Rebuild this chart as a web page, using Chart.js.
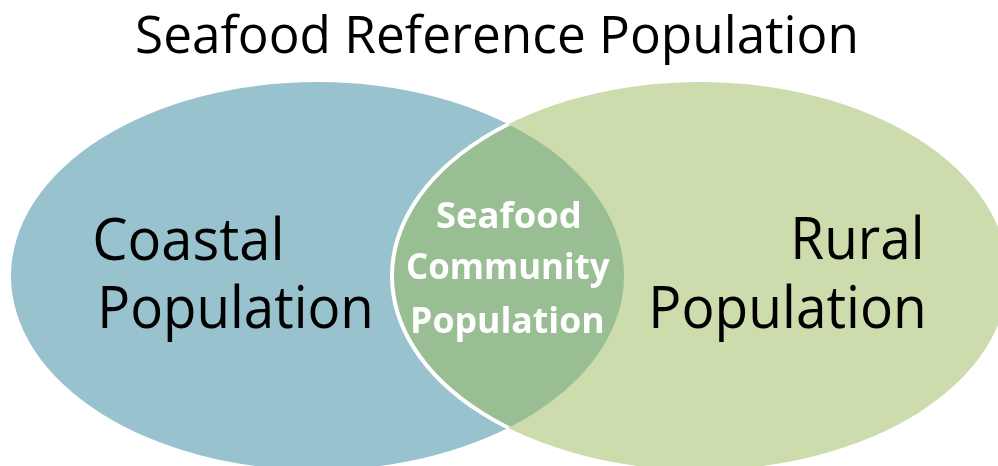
<!DOCTYPE html>
<html>
<head>
<meta charset="utf-8">
<script src="https://cdn.jsdelivr.net/npm/chart.js@4"></script>
<style>
  html, body { margin: 0; padding: 0; background: #ffffff; }
  #wrap { width: 998px; height: 466px; position: relative; }
</style>
</head>
<body>
<div id="wrap"><canvas id="c" width="998" height="466"></canvas></div>
<script>
// ---- data ----
const chartTitle = 'Seafood Reference Population';
const setNames = ['Coastal Population', 'Rural Population'];
const setLines = [['Coastal', 'Population'], ['Rural', 'Population']];
const overlapLines = ['Seafood', 'Community', 'Population'];
// ellipse centres and half-axes, in chart units
const centerX = [317.5, 700];
const centerY = [276, 276];
const halfWidth = [306.5, 308];
const halfHeight = [194, 194];

// ---- styles ----
const fillColors = ['#98c2ce', '#cddcad'];
const overlapColor = '#9abe94';

const textLayout = {
  title: { left: 137, right: 855, baseline: 53, cap: 38, weight: '400', color: '#000' },
  sets: [
    [ { left: 95, right: 280, baseline: 260, cap: 43 }, { left: 102, right: 370, baseline: 328, cap: 43 } ],
    [ { left: 795, right: 920, baseline: 259, cap: 43 }, { left: 653, right: 923, baseline: 328, cap: 43 } ]
  ],
  overlap: [
    { left: 437, right: 580, baseline: 228, cap: 26 },
    { left: 408, right: 610, baseline: 279, cap: 26 },
    { left: 413, right: 603, baseline: 333, cap: 26 }
  ]
};

function drawFitted(ctx, text, box, weight, color, family) {
  ctx.save();
  ctx.font = weight + ' 100px ' + family;
  const capAsc = ctx.measureText('H').actualBoundingBoxAscent || 71;
  const size = 100 * box.cap / capAsc;
  ctx.font = weight + ' ' + size + 'px ' + family;
  ctx.textAlign = 'left';
  ctx.textBaseline = 'alphabetic';
  const m = ctx.measureText(text);
  const inkW = m.actualBoundingBoxLeft + m.actualBoundingBoxRight;
  const sx = (box.right - box.left) / inkW;
  ctx.translate(box.left, box.baseline);
  ctx.scale(sx, 1);
  ctx.fillStyle = color;
  ctx.fillText(text, m.actualBoundingBoxLeft, 0);
  ctx.restore();
}

const vennPlugin = {
  id: 'venn',
  afterDatasetsDraw(chart) {
    const ctx = chart.ctx;
    const xs = chart.scales.x, ys = chart.scales.y;
    const ells = chart.data.datasets.map(ds => {
      const p = ds.data[0];
      const cx = xs.getPixelForValue(p.x), cy = ys.getPixelForValue(p.y);
      const rx = Math.abs(xs.getPixelForValue(p.x + p.rx) - cx);
      const ry = Math.abs(ys.getPixelForValue(p.y + p.ry) - cy);
      return { cx, cy, rx, ry, color: ds.backgroundColor };
    });
    const path = e => { ctx.beginPath(); ctx.ellipse(e.cx, e.cy, e.rx, e.ry, 0, 0, Math.PI * 2); };
    ctx.save();
    // set fills
    ells.forEach(e => { path(e); ctx.fillStyle = e.color; ctx.fill(); });
    // overlap
    ctx.save();
    path(ells[0]); ctx.clip();
    path(ells[1]); ctx.fillStyle = overlapColor; ctx.fill();
    ctx.lineWidth = 4; ctx.strokeStyle = '#ffffff'; ctx.stroke();
    ctx.restore();
    ctx.restore();

    const fam = '"Open Sans", "Noto Sans", sans-serif';
    drawFitted(ctx, chartTitle, textLayout.title, '400', '#000000', fam);
    setLines.forEach((lines, i) => lines.forEach((t, j) =>
      drawFitted(ctx, t, textLayout.sets[i][j], '400', '#000000', fam)));
    overlapLines.forEach((t, j) =>
      drawFitted(ctx, t, textLayout.overlap[j], '700', '#ffffff', fam));
  }
};

const datasets = setNames.map((name, i) => ({
  label: name,
  data: [{ x: centerX[i], y: centerY[i], rx: halfWidth[i], ry: halfHeight[i] }],
  backgroundColor: fillColors[i],
  pointRadius: 0,
  pointHoverRadius: 0
}));

new Chart(document.getElementById('c'), {
  type: 'scatter',
  data: { datasets },
  options: {
    responsive: false,
    animation: false,
    devicePixelRatio: 1,
    layout: { padding: 0 },
    plugins: { legend: { display: false }, title: { display: false }, tooltip: { enabled: false } },
    scales: {
      x: { type: 'linear', min: 0, max: 998, display: false },
      y: { type: 'linear', min: 0, max: 466, reverse: true, display: false }
    }
  },
  plugins: [vennPlugin]
});
</script>
</body>
</html>
